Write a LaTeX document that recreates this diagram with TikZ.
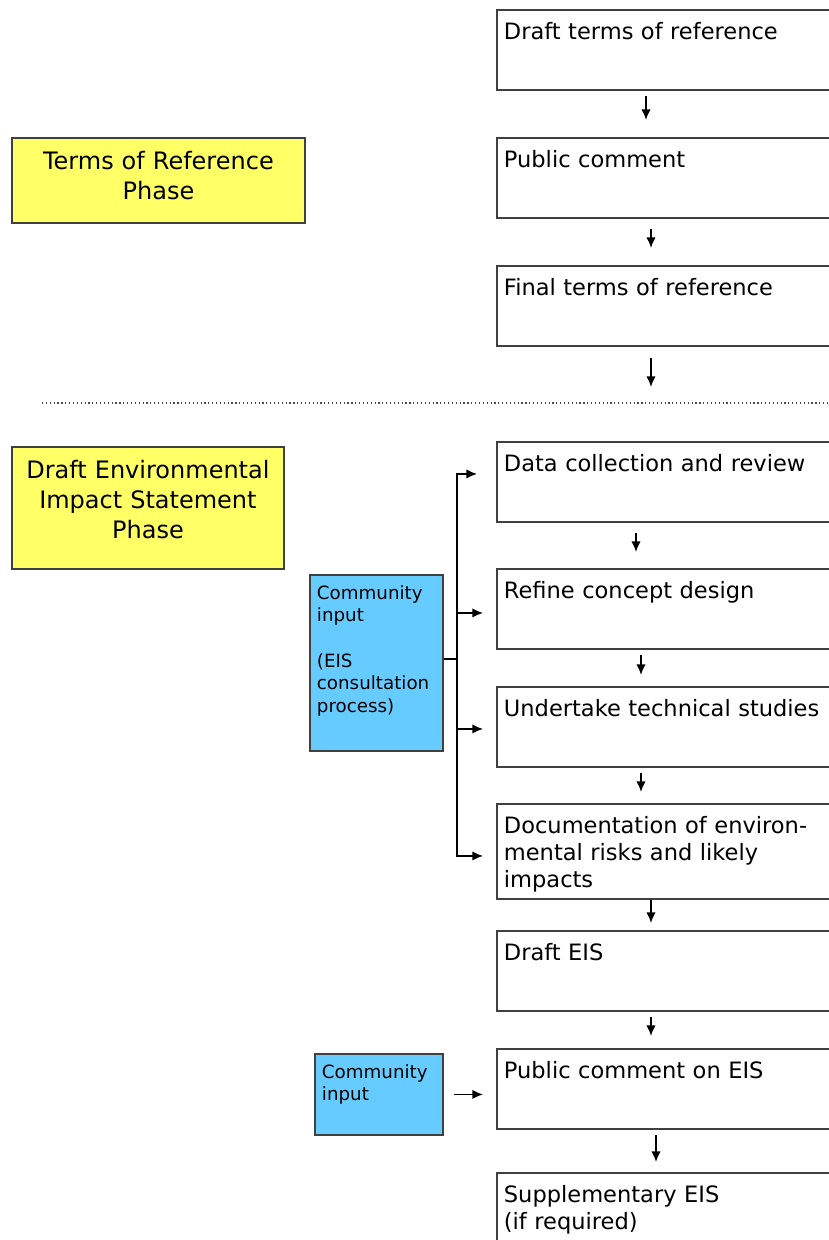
\documentclass[tikz,border=0pt]{standalone}
\usepackage{fontspec}
\setmainfont{DejaVu Sans}
\usepackage{xcolor}
\usepackage{tikz}
\usetikzlibrary{arrows.meta}

\definecolor{phaseyellow}{HTML}{FFFF66}
\definecolor{inputblue}{HTML}{66CCFF}
\definecolor{boxline}{HTML}{404040}

\begin{document}
\begin{tikzpicture}[x=0.75pt, y=-0.75pt,
  stagebox/.style={draw=boxline, line width=1.4pt, anchor=north west,
    font=\fontsize{16.9}{20.25}\selectfont, text width=300pt, align=left,
    inner xsep=5.25pt, inner ysep=9.75pt, text height=12.3pt, text depth=#1},
  stagebox/.default=28.2pt,
  phasebox/.style={draw=boxline, line width=1.4pt, fill=phaseyellow, anchor=north west,
    font=\fontsize{18}{22.5}\selectfont, align=center, text width=#1,
    inner xsep=0pt, inner ysep=10.5pt, text height=13.1pt},
  inputbox/.style={draw=boxline, line width=1.4pt, fill=inputblue, anchor=north west,
    font=\fontsize{13.7}{17}\selectfont, align=left, text width=#1,
    inner xsep=5.25pt, inner ysep=8.25pt, text height=10pt},
  flow/.style={-{Latex[length=8pt,width=7pt]}, line width=1.1pt},
  divider/.style={dotted, line width=0.9pt, black!70}]

\useasboundingbox (0,0) rectangle (829,1240);
\clip (0,0) rectangle (829,1240);

% Phase labels
\node[phasebox=219.75pt, text depth=29.65pt] (torphase) at (11,137) {Terms of Reference\\Phase};
\node[phasebox=204pt, text depth=57.4pt] (eisphase) at (11,446) {Draft Environmental\\Impact Statement\\Phase};

% Terms of reference steps
\node[stagebox] (tordraft) at (496,9) {Draft terms of reference};
\node[stagebox] (torcomment) at (496,137) {Public comment};
\node[stagebox] (torfinal) at (496,265) {Final terms of reference};

% Divider
\draw[divider] (42,403) -- (850,403);

% Draft EIS steps
\node[stagebox] (datacoll) at (496,441) {Data collection and review};
\node[stagebox] (refine) at (496,568) {Refine concept design};
\node[stagebox] (studies) at (496,686) {Undertake technical studies};
\node[stagebox=39.45pt] (risks) at (496,803) {Documentation of environ-\\mental risks and likely\\impacts};
\node[stagebox] (drafteis) at (496,930) {Draft EIS};
\node[stagebox] (eiscomment) at (496,1048) {Public comment on EIS};
\node[stagebox] (suppeis) at (496,1172) {Supplementary EIS\\(if required)};

% Community input
\node[inputbox=89.25pt, text depth=105.5pt] (consult) at (309,574) {Community\\input\\[17pt](EIS\\consultation\\process)};
\node[inputbox=85.5pt, text depth=34.25pt] (eisinput) at (314,1053) {Community\\input};

% Connections
\foreach \a/\b/\dx/\gs/\ge in {tordraft/torcomment/112.5/3.75/12.75,
    torcomment/torfinal/116.25/7.5/12.75,
    datacoll/refine/105/7.5/12,
    refine/studies/108.75/3.75/8.25,
    studies/risks/108.75/3.75/8.25,
    risks/drafteis/116.25/0/5.25,
    drafteis/eiscomment/116.25/3.75/9,
    eiscomment/suppeis/120/3.75/7.5}
  \draw[flow, shorten <=\gs pt, shorten >=\ge pt]
    ([xshift=\dx pt]\a.south west) -- ([xshift=\dx pt]\b.north west);

\coordinate (tornext) at (651,387);
\draw[flow, shorten <=8.25pt] (torfinal.south -| tornext) -- (tornext);

\coordinate (junction) at (457,659);
\draw[line width=1.1pt] (consult.east |- junction) -- (junction);
\draw[flow, shorten >=14.25pt] (junction) |- ([yshift=6pt]datacoll.west);
\draw[flow, shorten >=9.75pt] (junction) |- ([yshift=-3pt]refine.west);
\draw[flow, shorten >=9.75pt] (junction) |- ([yshift=-1.5pt]studies.west);
\draw[flow, shorten >=9.75pt] (junction) |- ([yshift=-3.4pt]risks.west);

\draw[flow, shorten <=7.5pt, shorten >=9.75pt] (eisinput.east) -- (eisinput.east -| eiscomment.west);
\end{tikzpicture}
\end{document}
